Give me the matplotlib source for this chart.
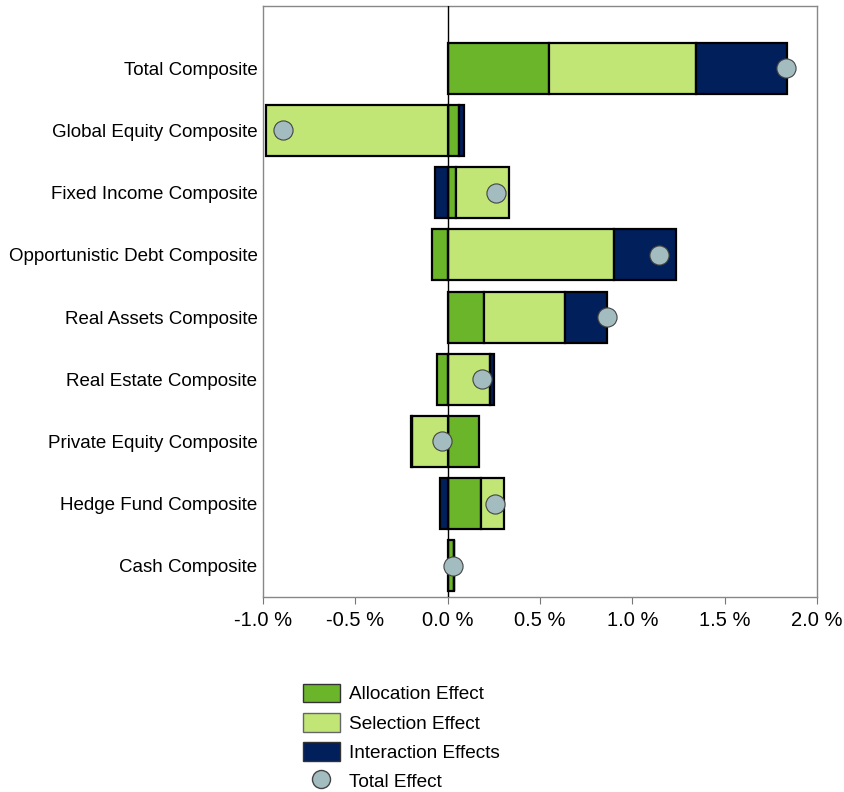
import numpy as np
import matplotlib
matplotlib.use("Agg")
import matplotlib.pyplot as plt
from matplotlib.lines import Line2D
from matplotlib.patches import Patch

plt.rcParams['font.family'] = ['Liberation Sans', 'DejaVu Sans']

categories = ["Total Composite", "Global Equity Composite", "Fixed Income Composite",
              "Opportunistic Debt Composite", "Real Assets Composite", "Real Estate Composite",
              "Private Equity Composite", "Hedge Fund Composite", "Cash Composite"]
allocation = [0.55, 0.062, 0.046, -0.084, 0.197, -0.058, 0.167, 0.181, 0.036]
selection = [0.797, -0.982, 0.287, 0.90, 0.436, 0.231, -0.193, 0.122, 0.0]
interaction = [0.488, 0.026, -0.066, 0.335, 0.232, 0.022, -0.006, -0.04, 0.0]
total = [1.83, -0.89, 0.26, 1.147, 0.861, 0.185, -0.03, 0.259, 0.028]
xticks = [-1.0, -0.5, 0.0, 0.5, 1.0, 1.5, 2.0]

c_alloc = "#6bb52b"
c_sel = "#c2e676"
c_inter = "#001f5b"
c_total = "#a3bcc0"

fig = plt.figure(figsize=(8.44, 7.92), dpi=100)
ax = fig.add_axes([263 / 844, 1 - 597 / 792, 554 / 844, 591 / 792])

y = np.arange(len(categories))
pos = np.zeros(len(categories))
neg = np.zeros(len(categories))
for vals, col in [(allocation, c_alloc), (selection, c_sel), (interaction, c_inter)]:
    vals = np.array(vals)
    left = np.where(vals >= 0, pos, neg)
    ax.barh(y, vals, left=left, height=0.82, color=col, edgecolor="black", linewidth=1.6, zorder=2)
    pos = pos + np.where(vals >= 0, vals, 0)
    neg = neg + np.where(vals < 0, vals, 0)

ax.scatter(total, y, s=190, color=c_total, edgecolor="#444444", linewidth=0.8, zorder=4)
ax.axvline(0, color="black", linewidth=1.0, zorder=3)

ax.set_xlim(-1.0, 2.0)
ax.set_ylim(8.5, -1.0)
ax.set_xticks(xticks)
ax.set_xticklabels([f"{v:.1f} %" for v in xticks], fontsize=14.5)
ax.set_yticks(y)
ax.set_yticklabels(categories, fontsize=13.5)
ax.tick_params(axis="y", length=0, pad=4)
ax.tick_params(axis="x", length=5, color="#777777", pad=5)
for s in ax.spines.values():
    s.set_color("#888888")
    s.set_linewidth(1.0)

handles = [Patch(facecolor=c_alloc, edgecolor="#333333", label="Allocation Effect"),
           Patch(facecolor=c_sel, edgecolor="#666666", label="Selection Effect"),
           Patch(facecolor=c_inter, edgecolor="#333333", label="Interaction Effects"),
           Line2D([], [], marker="o", linestyle="none", markersize=13, markerfacecolor=c_total,
                  markeredgecolor="#444444", label="Total Effect")]
fig.legend(handles=handles, loc="upper left", bbox_to_anchor=(295 / 844, 1 - 676 / 792),
           borderaxespad=0, frameon=False, fontsize=13.7, handlelength=1.95, handleheight=1.15,
           labelspacing=0.49, handletextpad=0.5)

fig.savefig("out.png", dpi=100)
